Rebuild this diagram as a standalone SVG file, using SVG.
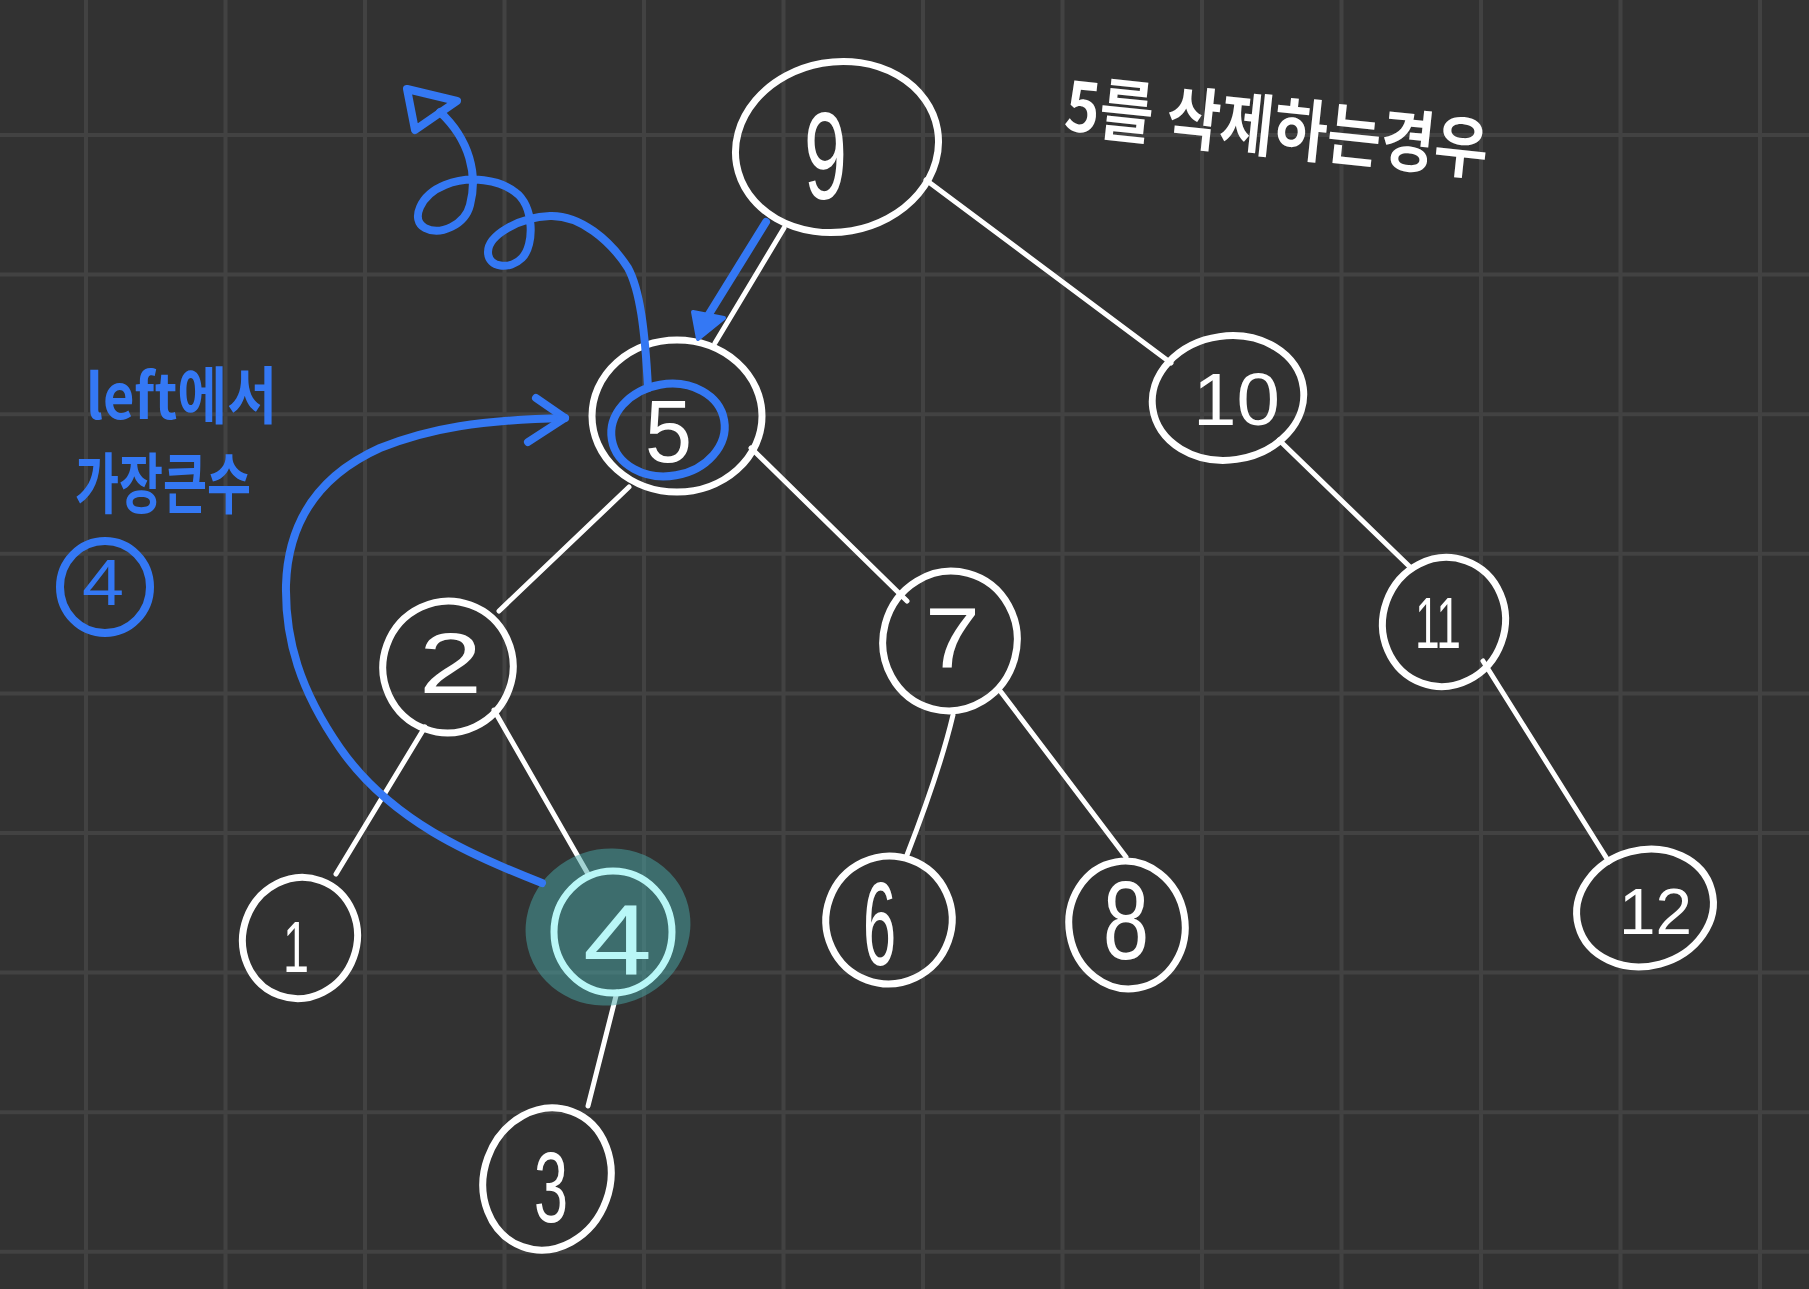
<svg xmlns="http://www.w3.org/2000/svg" width="1809" height="1289" viewBox="0 0 1809 1289">
<defs>
<style>
.grid line{stroke:#424242;stroke-width:4}
.node{fill:none;stroke:#ffffff;stroke-width:7}
.edge{fill:none;stroke:#ffffff;stroke-width:5;stroke-linecap:round}
.num{fill:#ffffff;font-family:"Liberation Sans",Arial,sans-serif;text-anchor:start}
.blue{fill:none;stroke:#3478f4;stroke-width:8;stroke-linecap:round;stroke-linejoin:round}
.btext{fill:#3478f4;font-family:"Noto Sans CJK KR","Noto Sans",sans-serif;font-weight:bold}
.bnum{fill:#3478f4;font-family:"Liberation Sans",Arial,sans-serif;font-weight:normal}
.wtext{fill:#ffffff;font-family:"Noto Sans CJK KR","Noto Sans",sans-serif;font-weight:bold}
</style>
</defs>
<rect x="0" y="0" width="1809" height="1289" fill="#323232"/>
<g class="grid">
<line x1="86" y1="0" x2="86" y2="1289"/><line x1="225.5" y1="0" x2="225.5" y2="1289"/><line x1="365" y1="0" x2="365" y2="1289"/><line x1="504.5" y1="0" x2="504.5" y2="1289"/><line x1="644" y1="0" x2="644" y2="1289"/><line x1="783.5" y1="0" x2="783.5" y2="1289"/><line x1="923" y1="0" x2="923" y2="1289"/><line x1="1062.5" y1="0" x2="1062.5" y2="1289"/><line x1="1202" y1="0" x2="1202" y2="1289"/><line x1="1341.5" y1="0" x2="1341.5" y2="1289"/><line x1="1481" y1="0" x2="1481" y2="1289"/><line x1="1620.5" y1="0" x2="1620.5" y2="1289"/><line x1="1760" y1="0" x2="1760" y2="1289"/>
<line x1="0" y1="135" x2="1809" y2="135"/><line x1="0" y1="274.6" x2="1809" y2="274.6"/><line x1="0" y1="414.2" x2="1809" y2="414.2"/><line x1="0" y1="553.8" x2="1809" y2="553.8"/><line x1="0" y1="693.4" x2="1809" y2="693.4"/><line x1="0" y1="833" x2="1809" y2="833"/><line x1="0" y1="972.6" x2="1809" y2="972.6"/><line x1="0" y1="1112.2" x2="1809" y2="1112.2"/><line x1="0" y1="1251.8" x2="1809" y2="1251.8"/>
</g>
<g id="connectors">
<line class="edge" x1="784" y1="228" x2="715" y2="343"/>
<line class="edge" x1="926" y1="180" x2="1171" y2="363"/>
<line class="edge" x1="629" y1="487" x2="499" y2="611"/>
<line class="edge" x1="751" y1="448" x2="907" y2="601"/>
<line class="edge" x1="1279" y1="440" x2="1410" y2="567"/>
<line class="edge" x1="425" y1="727" x2="336" y2="874"/>
<line class="edge" x1="494" y1="710" x2="588" y2="874"/>
<line class="edge" x1="617" y1="992" x2="588" y2="1106"/>
<path class="edge" d="M953,715 Q940,770 907,855"/>
<line class="edge" x1="1001" y1="692" x2="1126" y2="857"/>
<line class="edge" x1="1483" y1="661" x2="1609" y2="862"/>
</g>
<g id="node-9"><ellipse class="node" cx="837" cy="147" rx="102" ry="85" transform="rotate(-10 837 147)"/><text class="num" x="804" y="199" font-size="124" textLength="43" lengthAdjust="spacingAndGlyphs">9</text></g>
<g id="node-5"><ellipse class="node" cx="677" cy="416" rx="85" ry="76"/><text class="num" x="645" y="462" font-size="89" textLength="47" lengthAdjust="spacingAndGlyphs">5</text></g>
<g id="node-10"><ellipse class="node" cx="1228" cy="398" rx="76" ry="62" transform="rotate(-8 1228 398)"/><text class="num" x="1193" y="425" font-size="75" textLength="87" lengthAdjust="spacingAndGlyphs">10</text></g>
<g id="node-2"><ellipse class="node" cx="448" cy="667" rx="65" ry="66" transform="rotate(20 448 667)"/><text class="num" x="419" y="693" font-size="85" textLength="63" lengthAdjust="spacingAndGlyphs">2</text></g>
<g id="node-7"><ellipse class="node" cx="950" cy="641" rx="67" ry="70" transform="rotate(15 950 641)"/><text class="num" x="925" y="667" font-size="86" textLength="55" lengthAdjust="spacingAndGlyphs">7</text></g>
<g id="node-11"><ellipse class="node" cx="1444" cy="622" rx="61" ry="65" transform="rotate(20 1444 622)"/><text class="num" x="1415" y="648" font-size="72" textLength="46" lengthAdjust="spacingAndGlyphs">11</text></g>
<g id="node-1"><ellipse class="node" cx="300" cy="938" rx="57" ry="61" transform="rotate(20 300 938)"/><text class="num" x="283" y="972" font-size="72" textLength="26" lengthAdjust="spacingAndGlyphs">1</text></g>
<g id="node-4">
<ellipse cx="608" cy="927" rx="83" ry="78" transform="rotate(-20 608 927)" fill="#48a8a8" fill-opacity="0.5"/>
<ellipse cx="613" cy="932" rx="59" ry="61" fill="none" stroke="#b9f7f7" stroke-width="7"/>
<text x="583" y="975" font-size="100" textLength="69" lengthAdjust="spacingAndGlyphs" fill="#b9f7f7" font-family="Liberation Sans, Arial, sans-serif">4</text>
</g>
<g id="node-3"><ellipse class="node" cx="547" cy="1179" rx="63" ry="72" transform="rotate(20 547 1179)"/><text class="num" x="534" y="1222" font-size="101" textLength="34" lengthAdjust="spacingAndGlyphs">3</text></g>
<g id="node-6"><ellipse class="node" cx="889" cy="920" rx="63" ry="64" transform="rotate(20 889 920)"/><text class="num" x="863" y="965" font-size="119" textLength="33" lengthAdjust="spacingAndGlyphs">6</text></g>
<g id="node-8"><ellipse class="node" cx="1127" cy="925" rx="58" ry="64" transform="rotate(-10 1127 925)"/><text class="num" x="1103" y="959" font-size="111" textLength="46" lengthAdjust="spacingAndGlyphs">8</text></g>
<g id="node-12"><ellipse class="node" cx="1645" cy="908" rx="69" ry="58" transform="rotate(-15 1645 908)"/><text class="num" x="1619" y="934" font-size="64" textLength="73" lengthAdjust="spacingAndGlyphs">12</text></g>
<g id="annotations">
<ellipse class="blue" cx="668" cy="430" rx="57" ry="46" transform="rotate(-10 668 430)"/>
<path class="blue" d="M766,222 L706,319"/>
<polygon points="693,312 724,318 698,339" fill="#3478f4" stroke="#3478f4" stroke-width="4" stroke-linejoin="round"/>
<path class="blue" d="M542,883 C470,855 390,820 340,748 C300,690 285,640 286,585 C288,520 320,475 380,448 C430,428 480,420 565,418"/>
<path class="blue" d="M536,398 L565,418 L528,442"/>
<path class="blue" d="M648,388 C645,330 640,290 628,268 C610,240 580,215 550,216 C520,217 488,235 488,252 C488,268 510,270 522,258 C535,245 534,205 515,192 C500,180 470,175 445,185 C420,195 410,220 425,228 C440,236 465,225 470,205 C478,175 470,140 440,112"/>
<polygon class="blue" points="407,89 457,101 415,130"/>
<text class="btext" x="86" y="419" font-size="62" textLength="191" lengthAdjust="spacingAndGlyphs">left에서</text>
<text class="btext" x="75" y="508" font-size="66" textLength="176" lengthAdjust="spacingAndGlyphs">가장큰수</text>
<ellipse class="blue" cx="105" cy="587" rx="45" ry="46" stroke-width="7"/>
<text class="bnum" x="82" y="605" font-size="64" textLength="42" lengthAdjust="spacingAndGlyphs">4</text>
</g>
<g id="title"><text class="wtext" x="1063" y="130" font-size="68" textLength="425" lengthAdjust="spacingAndGlyphs" transform="rotate(6 1063 130)">5를 삭제하는경우</text></g>
</svg>
